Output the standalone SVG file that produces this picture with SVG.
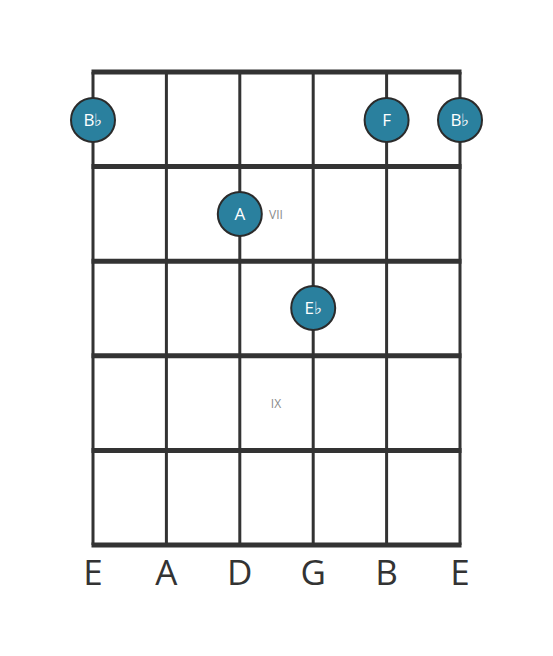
<svg xmlns="http://www.w3.org/2000/svg" width="553" height="656" viewBox="0 0 553 656">
<style>
.str{stroke:#333;stroke-width:3}
.fret{stroke:#333;stroke-width:5}
.dot{fill:#2a809e;stroke:#2b2b2b;stroke-width:2}
.nt{font-family:"Open Sans","Noto Sans",sans-serif;font-size:17px;fill:#fff;text-anchor:middle}
.fn{font-family:"Open Sans","Noto Sans",sans-serif;font-size:12px;fill:#8a8a8a;text-anchor:middle}
.sn{font-family:"Open Sans","Noto Sans",sans-serif;font-size:35px;fill:#333;text-anchor:middle}
</style>
<rect width="553" height="656" fill="#fff"/>
<g id="fretboard">
<line class="str" x1="93" y1="72" x2="93" y2="545"/>
<line class="str" x1="166.4" y1="72" x2="166.4" y2="545"/>
<line class="str" x1="239.8" y1="72" x2="239.8" y2="545"/>
<line class="str" x1="313.2" y1="72" x2="313.2" y2="545"/>
<line class="str" x1="386.6" y1="72" x2="386.6" y2="545"/>
<line class="str" x1="460" y1="72" x2="460" y2="545"/>
<line class="fret" x1="91.5" y1="72" x2="461.5" y2="72"/>
<line class="fret" x1="91.5" y1="166.6" x2="461.5" y2="166.6"/>
<line class="fret" x1="91.5" y1="261.2" x2="461.5" y2="261.2"/>
<line class="fret" x1="91.5" y1="355.8" x2="461.5" y2="355.8"/>
<line class="fret" x1="91.5" y1="450.4" x2="461.5" y2="450.4"/>
<line class="fret" x1="91.5" y1="545" x2="461.5" y2="545"/>
</g>
<g id="fret-labels">
<text class="fn" x="276" y="218.5">VII</text>
<text class="fn" x="276" y="408">IX</text>
</g>
<g id="note-Bb-low"><circle class="dot" cx="93" cy="120" r="22"/><text class="nt" x="93" y="126">B♭</text></g>
<g id="note-F"><circle class="dot" cx="386.6" cy="120" r="22"/><text class="nt" x="386.6" y="126">F</text></g>
<g id="note-Bb-high"><circle class="dot" cx="460" cy="120" r="22"/><text class="nt" x="460" y="126">B♭</text></g>
<g id="note-A"><circle class="dot" cx="239.8" cy="214" r="22"/><text class="nt" x="239.8" y="220">A</text></g>
<g id="note-Eb"><circle class="dot" cx="313.2" cy="308" r="22"/><text class="nt" x="313.2" y="314">E♭</text></g>
<g id="string-names">
<text class="sn" x="93" y="585">E</text>
<text class="sn" x="166.4" y="585">A</text>
<text class="sn" x="239.8" y="585">D</text>
<text class="sn" x="313.2" y="585">G</text>
<text class="sn" x="386.6" y="585">B</text>
<text class="sn" x="460" y="585">E</text>
</g>
</svg>
